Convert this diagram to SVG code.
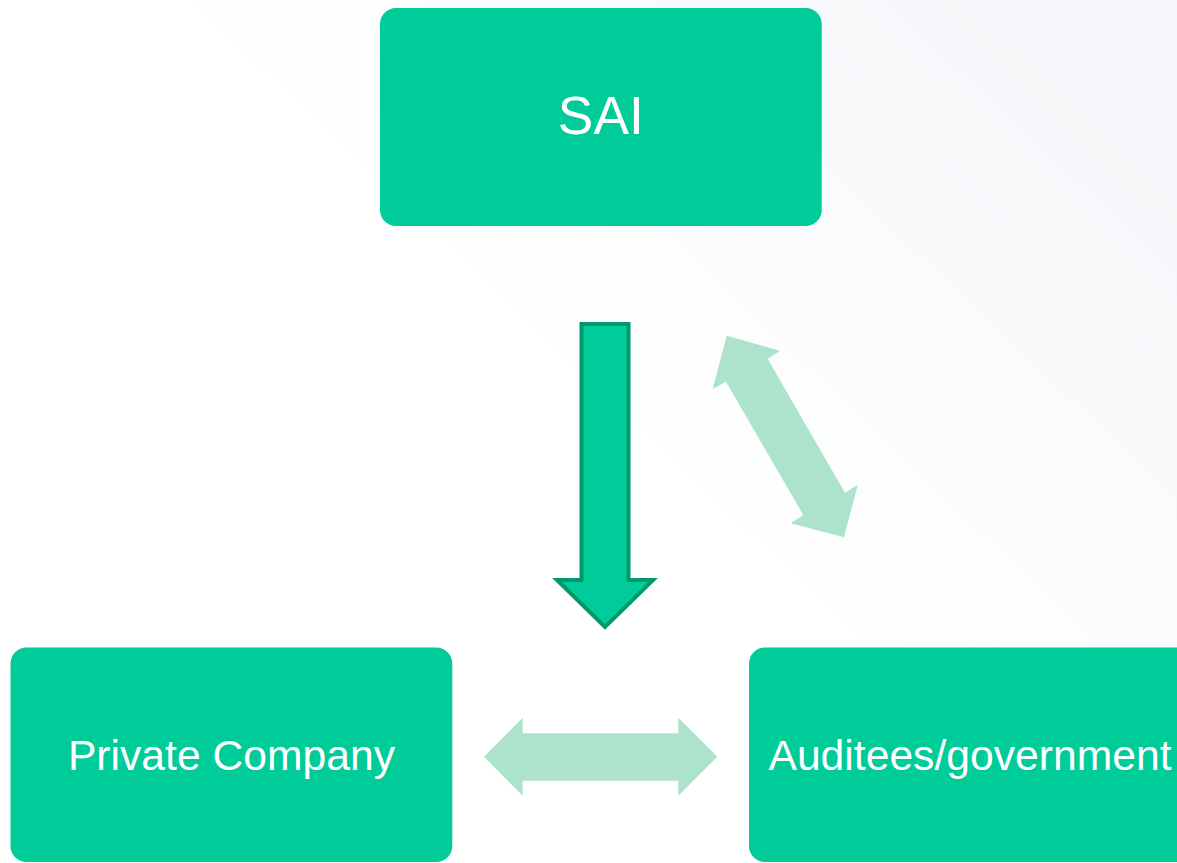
<svg xmlns="http://www.w3.org/2000/svg" width="1177" height="863" viewBox="0 0 1177 863">
<defs>
<linearGradient id="bg" gradientUnits="userSpaceOnUse" x1="760" y1="560" x2="1177" y2="120">
<stop offset="0" stop-color="#ffffff"/>
<stop offset="1" stop-color="#f4f6f9"/>
</linearGradient>
</defs>
<style>
.node{fill:#00CC99;}
.lbl{fill:#ffffff;font-family:"Liberation Sans",Arial,sans-serif;text-anchor:middle;}
.light{fill:#ACE3CA;}
.dark{fill:#00CC99;stroke:#00996B;stroke-width:4;stroke-linejoin:miter;}
</style>
<rect x="0" y="0" width="1177" height="863" fill="url(#bg)"/>
<g id="connectors">
<path class="dark" d="M581.5,324 L628.5,324 L628.5,580 L653,580 L605,627 L557,580 L581.5,580 Z"/>
<path class="light" d="M726.7,335.7 L780,350.7 L767.7,359 L845,492.7 L857.7,485 L844,537.3 L790.7,523.3 L803.3,515 L726,381.7 L712.7,389 Z"/>
<path class="light" d="M484,756.7 L522.7,717.7 L522.7,733.3 L678.3,733.3 L678.3,717.7 L717.3,756.7 L678.3,795.7 L678.3,780.7 L522.7,780.7 L522.7,795.7 Z"/>
</g>
<g id="sai">
<rect class="node" x="380" y="8" width="441.7" height="218" rx="16" ry="16"/>
<text class="lbl" x="600.8" y="133.5" font-size="53.3">SAI</text>
</g>
<g id="private-company">
<rect class="node" x="10.5" y="647.5" width="441.8" height="214.5" rx="16" ry="16"/>
<text class="lbl" x="231.5" y="770" font-size="42.67">Private Company</text>
</g>
<g id="auditees">
<rect class="node" x="749" y="647.5" width="442" height="214.5" rx="16" ry="16"/>
<text class="lbl" x="970" y="770" font-size="42.67">Auditees/government</text>
</g>
</svg>
